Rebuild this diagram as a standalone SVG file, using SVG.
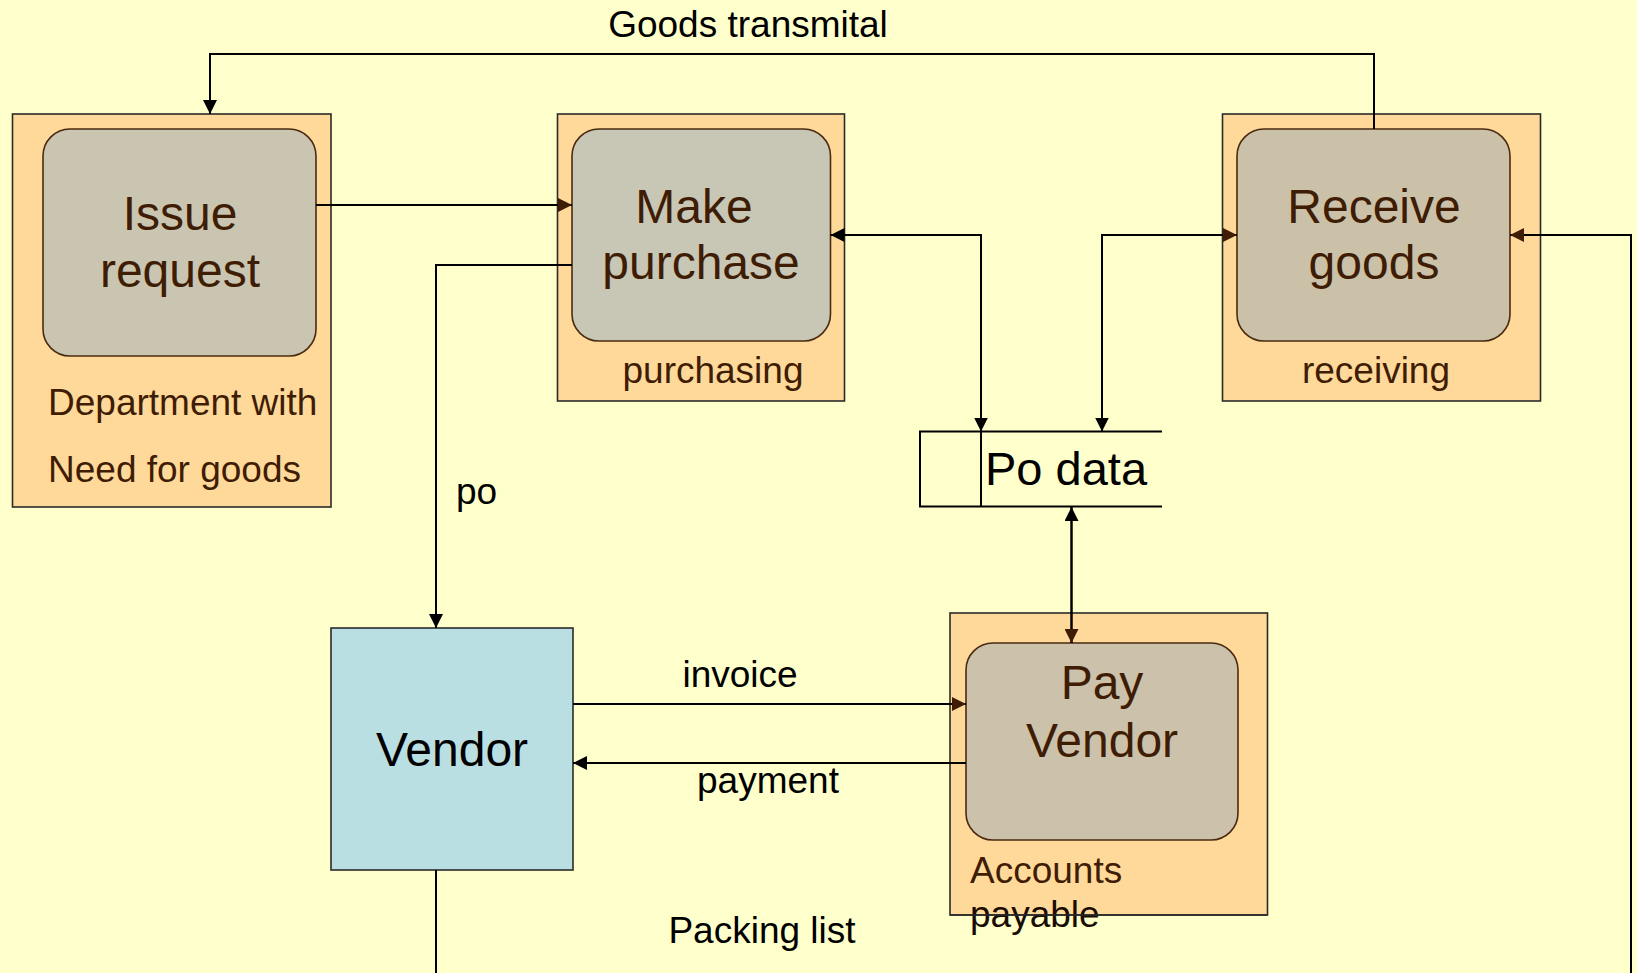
<svg xmlns="http://www.w3.org/2000/svg" width="1637" height="973" viewBox="0 0 1637 973">
<defs>
<style>
.outer{fill:#ffd999;stroke:#2a2a2a;stroke-width:1.6}
.inner{stroke:#4a2a10;stroke-width:1.6}
.big{font-family:"Liberation Sans",Arial,sans-serif;font-size:48px;fill:#3f1d05;text-anchor:middle}
.lbl{font-family:"Liberation Sans",Arial,sans-serif;font-size:37px;fill:#3f1d05}
.blk{font-family:"Liberation Sans",Arial,sans-serif;font-size:37px;fill:#000}
.ln{fill:none;stroke:#000;stroke-width:2}
</style>
<marker id="ab" viewBox="0 0 14 14" markerWidth="14" markerHeight="14" refX="14" refY="7" orient="auto" markerUnits="userSpaceOnUse"><path d="M0,0 L14,7 L0,14 z" fill="#000"/></marker>
<marker id="ar" viewBox="0 0 14 14" markerWidth="14" markerHeight="14" refX="14" refY="7" orient="auto" markerUnits="userSpaceOnUse"><path d="M0,0 L14,7 L0,14 z" fill="#3f1d05"/></marker>
<marker id="abs" viewBox="0 0 14 14" markerWidth="14" markerHeight="14" refX="0" refY="7" orient="auto" markerUnits="userSpaceOnUse"><path d="M14,0 L0,7 L14,14 z" fill="#000"/></marker>
</defs>
<rect x="0" y="0" width="1637" height="973" fill="#ffffcc"/>

<g id="issue-request">
<rect class="outer" x="12.5" y="114" width="318.5" height="393"/>
<rect class="inner" x="43" y="129" width="273" height="227" rx="27" fill="#c9c5b1"/>
<text class="big" x="180" y="230">Issue</text>
<text class="big" x="180" y="287">request</text>
<text class="lbl" x="48" y="415">Department with</text>
<text class="lbl" x="48" y="482">Need for goods</text>
</g>

<g id="make-purchase">
<rect class="outer" x="557.5" y="114" width="287" height="287"/>
<rect class="inner" x="572" y="129" width="258.5" height="212" rx="27" fill="#c8c7b6"/>
<text class="big" x="694" y="223">Make</text>
<text class="big" x="701" y="279">purchase</text>
<text class="lbl" x="713" y="383" text-anchor="middle">purchasing</text>
</g>

<g id="receive-goods">
<rect class="outer" x="1222.5" y="114" width="318" height="287"/>
<rect class="inner" x="1237" y="129" width="273" height="212" rx="27" fill="#cbc1a9"/>
<text class="big" x="1374" y="223">Receive</text>
<text class="big" x="1374" y="279">goods</text>
<text class="lbl" x="1376" y="383" text-anchor="middle">receiving</text>
</g>

<g id="po-data">
<path class="ln" d="M1162,431.5 H920 V506.5 H1162 M981,431.5 V506.5"/>
<text class="blk" x="985" y="485" style="font-size:47px">Po data</text>
</g>

<g id="vendor">
<rect x="331" y="628" width="242" height="242" fill="#b9dfe3" stroke="#2a2a2a" stroke-width="1.6"/>
<text class="blk" x="452" y="766" text-anchor="middle" style="font-size:48px">Vendor</text>
</g>

<g id="pay-vendor">
<rect class="outer" x="950" y="613" width="317.5" height="302"/>
<rect class="inner" x="966" y="643" width="272" height="197" rx="27" fill="#ccc1aa"/>
<text class="big" x="1102" y="699">Pay</text>
<text class="big" x="1102" y="757">Vendor</text>
<text class="lbl" x="970" y="883">Accounts</text>
<text class="lbl" x="970" y="927" style="fill:#1a0c02">payable</text>
<path d="M950,915 H1267.5" stroke="#2a2a2a" stroke-width="1.6"/>
</g>

<g id="connectors">
<path class="ln" d="M1374,129 V54 H210 V114" marker-end="url(#ab)"/>
<text class="blk" x="748" y="37" text-anchor="middle">Goods transmital</text>
<path class="ln" d="M316,205 H572" marker-end="url(#ar)"/>
<path class="ln" d="M572,265 H436 V628" marker-end="url(#ab)"/>
<text class="blk" x="456" y="504">po</text>
<path class="ln" d="M830.5,235 H981 V431.5" marker-start="url(#abs)" marker-end="url(#ab)"/>
<path class="ln" d="M1102,431.5 V235 H1237" marker-end="url(#ar)"/>
<path class="ln" d="M1102,235 V431.5" marker-end="url(#ab)"/>
<path class="ln" d="M1071.5,643 V507" marker-end="url(#ab)"/>
<path class="ln" d="M1071.5,507 V643" marker-end="url(#ar)"/>
<path class="ln" d="M573,704 H966" marker-end="url(#ar)"/>
<text class="blk" x="740" y="687" text-anchor="middle">invoice</text>
<path class="ln" d="M966,763 H573" marker-end="url(#ab)"/>
<text class="blk" x="768" y="793" text-anchor="middle">payment</text>
<path class="ln" d="M436,870 V973"/>
<text class="blk" x="762" y="943" text-anchor="middle">Packing list</text>
<path class="ln" d="M1631,973 V235 H1510" marker-end="url(#ar)"/>
</g>
</svg>
